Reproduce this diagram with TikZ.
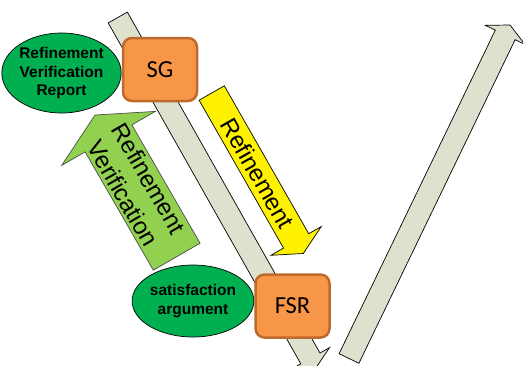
\documentclass[tikz,border=0pt]{standalone}
\usepackage{fontspec}
\setmainfont{Liberation Sans}
\newfontfamily\calibrifont{Carlito}
\usetikzlibrary{calc,shapes.geometric}

\definecolor{shaftgray}{RGB}{221,225,205}
\definecolor{boxorange}{RGB}{247,150,70}
\definecolor{boxline}{RGB}{190,105,45}
\definecolor{ovalgreen}{RGB}{0,176,80}
\definecolor{arrowgreen}{RGB}{146,208,80}

% style, tail, tip, half shaft width, half head width
\newcommand{\blockarrow}[5]{%
	\coordinate (#2 base) at ($(#3)!#4!(#2)$);
	\path [#1] ($(#2)!#4!90:(#3)$) -- ($(#2 base)!#4!90:(#3)$) -- ($(#2 base)!#5!90:(#3)$)
		-- (#3) -- ($(#2 base)!#5!-90:(#3)$) -- ($(#2 base)!#4!-90:(#3)$) -- ($(#2)!#4!-90:(#3)$) -- cycle;
}

\begin{document}
\begin{tikzpicture}
[
	              x = 1pt,
	              y = -1pt,
	   shaft/.style = { draw=black, line width=0.7pt, fill=shaftgray },
	  refine/.style = { draw=black, line width=0.7pt, fill=yellow },
	  verify/.style = { draw=black!70, line width=0.7pt, fill=arrowgreen },
	flowtext/.style = { inner sep=0pt, align=center, font=\fontsize{24}{30}\selectfont },
	    goal/.style = { rectangle, rounded corners=9pt, draw=boxline, line width=2.5pt, fill=boxorange,
	                    minimum width=74pt, minimum height=63pt, font=\calibrifont\fontsize{24.5}{29}\selectfont },
	    oval/.style = { ellipse, draw=black, line width=0.7pt, fill=ovalgreen, inner sep=0pt, align=center,
	                    font=\bfseries\fontsize{15.5}{18.5}\selectfont }
]
	\useasboundingbox (0,0) rectangle (523,365);
	\clip (0,0) rectangle (523,365);

	\coordinate (down tail) at (117.8,17.5);
	\coordinate (down tip)  at (315.8,368);
	\coordinate (up tail)   at (349,358.5);
	\coordinate (up tip)    at (510,25);
	\coordinate (ref tail)  at (211.7,93);
	\coordinate (ref tip)   at (303.3,253.5);
	\coordinate (ver tail)  at (176.7,256.7);
	\coordinate (ver tip)   at (95,115);

	\blockarrow{shaft}{down tail}{down tip}{11pt}{22pt}
	\blockarrow{shaft}{up tail}{up tip}{11pt}{22pt}
	\blockarrow{refine}{ref tail}{ref tip}{14.5pt}{29pt}
	\blockarrow{verify}{ver tail}{ver tip}{27pt}{54pt}

	\path (ref tail) -- node [flowtext, sloped] {Refinement} (ref tip);
	\path (ver tail) -- node [flowtext, sloped] {Refinement\\Verification} (ver tip);

	\node (sg)  at (160,69.5)  [goal] {SG};
	\node (fsr) at (292.5,306) [goal] {FSR};

	\node (report) at (61.5,73) [oval, minimum width=111pt, minimum height=80pt] {Refinement\\Verification\\Report};
	\node (sat)    at (193,301) [oval, minimum width=108pt, minimum height=72pt] {satisfaction\\argument};

\end{tikzpicture}
\end{document}
